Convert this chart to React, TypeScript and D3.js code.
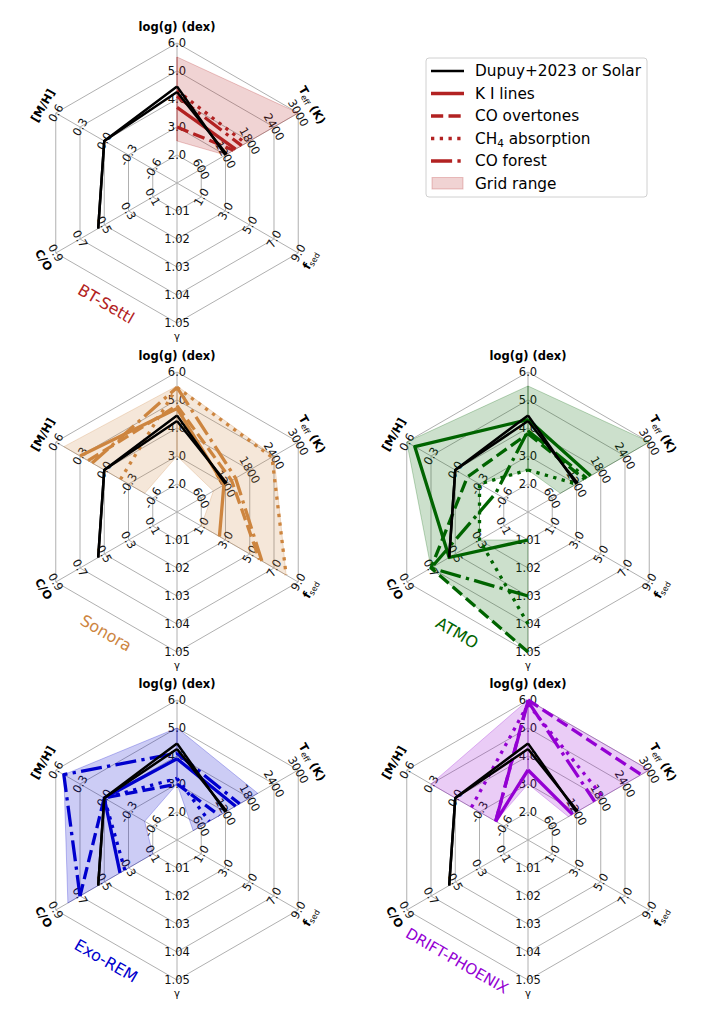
import React, { useEffect, useRef } from 'react';
import * as d3 from 'd3';

// axis order (clockwise from the top): log(g), Teff, fsed, gamma, C/O, [M/H]
const axisLow = [1.0, 0, -1.0, 1.0, -0.1, -0.9];
const axisHigh = [6.0, 3000, 9.0, 1.05, 0.9, 0.6];
const tickLabels = [
  ['2.0', '3.0', '4.0', '5.0', '6.0'],
  ['600', '1200', '1800', '2400', '3000'],
  ['1.0', '3.0', '5.0', '7.0', '9.0'],
  ['1.01', '1.02', '1.03', '1.04', '1.05'],
  ['0.1', '0.3', '0.5', '0.7', '0.9'],
  ['-0.6', '-0.3', '0.0', '0.3', '0.6'],
];

const N = NaN;

// Dupuy+2023 / solar reference
const refA = [4.45, 1200, N, N, 0.55, 0.0];
const refB = [4.25, 1230, N, N, 0.55, 0.0];

// BT-Settl
const btMin = [2.5, 1200, N, N, N, N];
const btMax = [5.5, 3000, N, N, N, N];
const btKI = [3.7, 1450, N, N, N, N];
const btCO = [3.0, 1400, N, N, N, N];
const btCH4 = [4.3, 1700, N, N, N, N];
const btForest = [4.1, 1600, N, N, N, N];

// Sonora
const soMin = [3.0, 900, 1.0, N, N, -0.5];
const soMax = [5.5, 2400, 8.0, N, N, 0.5];
const soKI = [4.7, 1160, 2.5, N, N, 0.3];
const soCO = [4.8, 1350, 5.8, N, N, 0.2];
const soCH4 = [5.45, 2350, 8.0, N, N, -0.2];
const soForest = [5.45, 1450, 6.0, N, N, 0.15];

// ATMO
const atMin = [2.5, 800, N, 1.01, 0.3, -0.3];
const atMax = [5.5, 3000, N, 1.05, 0.7, 0.6];
const atKI = [4.3, 1550, N, 1.01, 0.55, 0.5];
const atCO = [3.8, 1400, N, 1.05, 0.7, -0.15];
const atCH4 = [2.5, 1200, N, 1.04, 0.3, -0.3];
const atForest = [3.9, 1450, N, 1.03, 0.7, -0.5];

// Exo-REM
const exMin = [3.0, 400, N, N, 0.1, -0.5];
const exMax = [5.0, 2000, N, N, 0.8, 0.5];
const exKI = [3.9, 1450, N, N, 0.37, 0.0];
const exCO = [3.0, 1050, N, N, 0.7, 0.0];
const exCH4 = [3.2, 800, N, N, 0.33, 0.0];
const exForest = [4.1, 1550, N, N, 0.7, 0.5];

// DRIFT-PHOENIX
const drMin = [3.0, 1000, N, N, N, -0.5];
const drMax = [6.0, 3000, N, N, N, 0.3];
const drKI = [3.5, 1100, N, N, N, -0.5];
const drCO = [6.0, 2800, N, N, N, -0.5];
const drCH4 = [5.85, 1850, N, N, N, -0.2];
const drForest = [5.95, 1650, N, N, N, -0.5];

const modelNames = ['BT-Settl', 'Sonora', 'ATMO', 'Exo-REM', 'DRIFT-PHOENIX'];
const modelColors = ['#b22222', '#cd853f', '#006400', '#0000cd', '#9400d3'];

const models = [
  { min: btMin, max: btMax, lines: [btKI, btCO, btCH4, btForest] },
  { min: soMin, max: soMax, lines: [soKI, soCO, soCH4, soForest] },
  { min: atMin, max: atMax, lines: [atKI, atCO, atCH4, atForest] },
  { min: exMin, max: exMax, lines: [exKI, exCO, exCH4, exForest] },
  { min: drMin, max: drMax, lines: [drKI, drCO, drCH4, drForest] },
];

const legendLabels = ['Dupuy+2023 or Solar', 'K I lines', 'CO overtones', 'CH4 absorption', 'CO forest', 'Grid range'];

const LW = 3.3;
const dashes = ['none', `${3.7 * LW},${1.6 * LW}`, `${LW},${1.65 * LW}`, `${6.4 * LW},${1.6 * LW},${LW},${1.6 * LW}`];

const W = 706;
const H = 1025;
const R = 140;
const centers = [[177, 183], [177, 512], [528, 512], [177, 840], [528, 840]];
const FONT = 'DejaVu Sans, sans-serif';

export default function App() {
  const svgRef = useRef<SVGSVGElement>(null);

  useEffect(() => {
    if (!svgRef.current) return;
    const svg = d3.select(svgRef.current);
    svg.selectAll('*').remove();

    const ang = (i: number) => ((i % 6) * Math.PI) / 3;
    const pt = (i: number, r: number): [number, number] => [r * Math.sin(ang(i)), -r * Math.cos(ang(i))];
    const rot = [0, 60, -60, 0, 60, -60];
    const scales = axisLow.map((lo, i) => d3.scaleLinear().domain([lo, axisHigh[i]]).range([0, R]));
    const idx = [0, 1, 2, 3, 4, 5, 6];

    models.forEach((m, mi) => {
      const [cx, cy] = centers[mi];
      const color = modelColors[mi];
      const g = svg.append('g').attr('transform', `translate(${cx},${cy})`);

      // grid rings and spokes
      const ringLine = d3.lineRadial<number>().angle(ang).radius(() => 0);
      for (let k = 1; k <= 5; k++) {
        g.append('path')
          .attr('d', ringLine.radius(() => (R * k) / 5)(idx) as string)
          .attr('fill', 'none')
          .attr('stroke', '#b0b0b0')
          .attr('stroke-width', 1);
      }
      for (let i = 0; i < 6; i++) {
        const [x, y] = pt(i, R);
        g.append('line').attr('x1', 0).attr('y1', 0).attr('x2', x).attr('y2', y)
          .attr('stroke', '#b0b0b0').attr('stroke-width', 1);
      }

      // tick labels
      for (let i = 0; i < 6; i++) {
        tickLabels[i].forEach((lab, k) => {
          const v = axisLow[i] + ((k + 1) * (axisHigh[i] - axisLow[i])) / 5;
          const [x, y] = pt(i, scales[i](v));
          g.append('text')
            .attr('transform', `translate(${x},${y}) rotate(${rot[i]})`)
            .attr('text-anchor', 'middle')
            .attr('dominant-baseline', 'central')
            .attr('font-family', FONT)
            .attr('font-size', 11.5)
            .attr('fill', '#111')
            .text(lab);
        });
      }

      // axis titles
      const title = (i: number, r: number) => {
        const [x, y] = pt(i, r);
        return g.append('text')
          .attr('transform', `translate(${x},${y}) rotate(${rot[i]})`)
          .attr('text-anchor', 'middle')
          .attr('dominant-baseline', 'central')
          .attr('font-family', FONT)
          .attr('font-size', 11.5)
          .attr('font-weight', 'bold');
      };
      title(0, 156).text('log(g) (dex)');
      const tt = title(1, 156);
      tt.append('tspan').text('T');
      tt.append('tspan').attr('font-size', 8).attr('font-weight', 'normal').attr('dy', 3).text('eff');
      tt.append('tspan').attr('dy', -3).text(' (K)');
      const tf = title(2, 154);
      tf.append('tspan').text('f');
      tf.append('tspan').attr('font-size', 8).attr('font-weight', 'normal').attr('dy', 3).text('sed');
      title(3, 153).attr('font-weight', 'normal').attr('font-size', 10).text('γ');
      title(4, 154).text('C/O');
      title(5, 155).text('[M/H]');

      // grid range
      const area = d3.areaRadial<number>()
        .angle(ang)
        .innerRadius(i => scales[i % 6](m.min[i % 6]))
        .outerRadius(i => scales[i % 6](m.max[i % 6]))
        .defined(i => !isNaN(m.min[i % 6]) && !isNaN(m.max[i % 6]));
      g.append('path')
        .attr('d', area(idx) as string)
        .attr('fill', color)
        .attr('fill-opacity', 0.2)
        .attr('stroke', color)
        .attr('stroke-opacity', 0.25)
        .attr('stroke-width', 1);

      const series = (vals: number[]) =>
        d3.lineRadial<number>()
          .angle(ang)
          .radius(i => scales[i % 6](vals[i % 6]))
          .defined(i => !isNaN(vals[i % 6]))(idx) as string;

      m.lines.forEach((vals, li) => {
        g.append('path')
          .attr('d', series(vals))
          .attr('fill', 'none')
          .attr('stroke', color)
          .attr('stroke-width', LW)
          .attr('stroke-dasharray', dashes[li])
          .attr('stroke-linejoin', 'round');
      });

      [refA, refB].forEach(vals => {
        g.append('path')
          .attr('d', series(vals))
          .attr('fill', 'none')
          .attr('stroke', '#000')
          .attr('stroke-width', 2.5)
          .attr('stroke-linejoin', 'round');
      });

      g.append('text')
        .attr('transform', `translate(-71,121) rotate(30)`)
        .attr('text-anchor', 'middle')
        .attr('dominant-baseline', 'central')
        .attr('font-family', FONT)
        .attr('font-size', mi === 4 ? 15 : 16)
        .attr('fill', color)
        .text(modelNames[mi]);
    });

    // legend
    const lg = svg.append('g');
    lg.append('rect')
      .attr('x', 426).attr('y', 58).attr('width', 221).attr('height', 139)
      .attr('rx', 3).attr('fill', '#fff').attr('stroke', '#d0d0d0').attr('stroke-width', 1);
    const rows = [71, 93.5, 116, 138.5, 161, 183.5];
    legendLabels.forEach((lab, j) => {
      const y = rows[j];
      if (j === 5) {
        lg.append('rect').attr('x', 432).attr('y', y - 6).attr('width', 31).attr('height', 11.5)
          .attr('fill', modelColors[0]).attr('fill-opacity', 0.2)
          .attr('stroke', modelColors[0]).attr('stroke-opacity', 0.25);
      } else {
        lg.append('line').attr('x1', 431).attr('x2', 464).attr('y1', y).attr('y2', y)
          .attr('stroke', j === 0 ? '#000' : modelColors[0])
          .attr('stroke-width', j === 0 ? 2.5 : LW)
          .attr('stroke-dasharray', j === 0 ? 'none' : dashes[j - 1]);
      }
      const t = lg.append('text')
        .attr('x', 475).attr('y', y)
        .attr('dominant-baseline', 'central')
        .attr('font-family', FONT)
        .attr('font-size', 15.3);
      if (j === 3) {
        t.append('tspan').text('CH');
        t.append('tspan').attr('font-size', 10.5).attr('dy', 4).text('4');
        t.append('tspan').attr('dy', -4).text(' absorption');
      } else {
        t.text(lab);
      }
    });
  }, []);

  return (
    <svg
      ref={svgRef}
      width={W}
      height={H}
      style={{ position: 'absolute', left: 0, top: 0, background: '#fff' }}
    />
  );
}
